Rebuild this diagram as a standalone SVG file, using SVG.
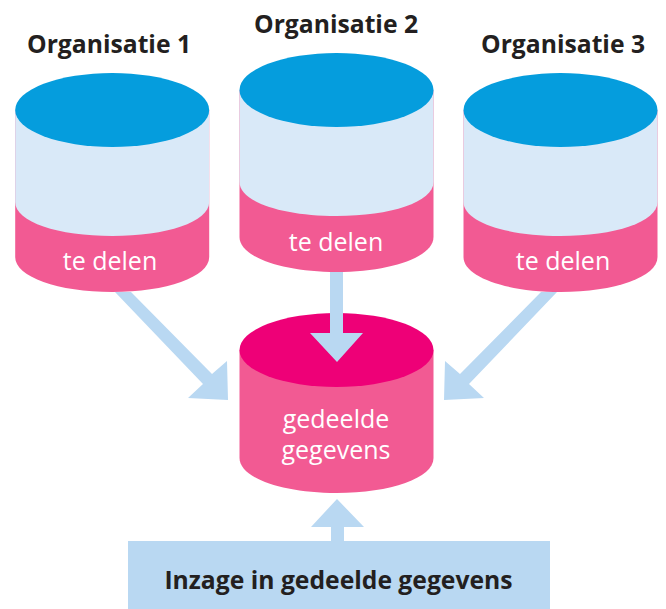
<svg xmlns="http://www.w3.org/2000/svg" width="666" height="609" viewBox="0 0 666 609">
<style>
.l{font-family:"Open Sans","Noto Sans",sans-serif;font-size:25px;fill:#fff;text-anchor:middle}
.t{font-family:"Open Sans","Noto Sans",sans-serif;font-size:24.7px;font-weight:700;fill:#231f20;text-anchor:middle}
.a{fill:#b9d8f2}
.b{fill:#d9e9f8}
.p{fill:#f25a93}
.c{fill:#059ddd}
</style>
<defs>
<g id="cyl">
<path class="p" d="M0 0V147C0 167 43 182 97 182S194 167 194 147V0Z"/>
<path class="b" d="M0 0V92C0 112 43 126 97 126S194 112 194 92V0Z"/>
<ellipse class="c" cx="97" cy="0" rx="97" ry="37"/>
</g>
</defs>
<g id="org1"><use href="#cyl" x="15.200" y="110"/>
<text class="t" x="109" y="53">Organisatie 1</text><text class="l" x="110" y="270">te delen</text></g>
<g id="org2"><use href="#cyl" x="239.500" y="90"/>
<text class="t" x="336" y="33">Organisatie 2</text><text class="l" x="336" y="251">te delen</text></g>
<g id="org3"><use href="#cyl" x="463.500" y="110"/>
<text class="t" x="563" y="53">Organisatie 3</text><text class="l" x="563" y="270">te delen</text></g>
<g id="shared">
<path class="p" d="M239.500 350V458C239.500 478 282.500 493 336.500 493S433.500 478 433.500 458V350Z"/>
<ellipse cx="336.500" cy="350" rx="97" ry="37" fill="#ee0077"/>
<text class="l" x="336" y="428">gedeelde</text><text class="l" x="336" y="459">gegevens</text>
</g>
<g id="inzage">
<rect class="a" x="128" y="541" width="422" height="68"/>
<text class="t" x="338.500" y="589">Inzage in gedeelde gegevens</text>
</g>
<g id="connectors">
<path class="a" d="M115 292H131L212 374L227 361L228 400L188 398L203 384Z"/>
<path class="a" d="M330 272H343V333H363L337 362L310 333H330Z"/>
<path class="a" d="M557 292H541L460 374L445 361L444 400L484 398L469 384Z"/>
<path class="a" d="M331 541V527H311L337 499L364 527H344V541Z"/>
</g>
</svg>
